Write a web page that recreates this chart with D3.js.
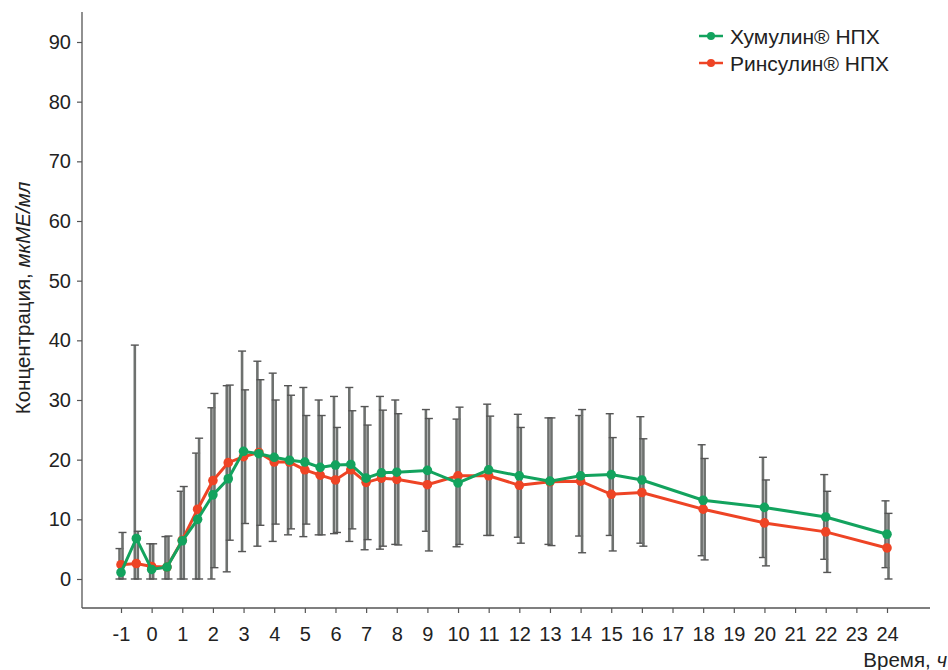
<!DOCTYPE html>
<html>
<head>
<meta charset="utf-8">
<script src="https://cdn.jsdelivr.net/npm/d3@7"></script>
<style>
  body { margin: 0; background: #fff; }
  text { font-family: "Liberation Sans", Arial, sans-serif; fill: #222; }
</style>
</head>
<body>
<div id="chart"></div>
<script>
// time points, hours
var hours = [-1, -0.5, 0, 0.5, 1, 1.5, 2, 2.5, 3, 3.5, 4, 4.5, 5, 5.5, 6, 6.5, 7, 7.5, 8, 9, 10, 11, 12, 13, 14, 15, 16, 18, 20, 22, 24];

var humulinMean = [1.1, 6.8, 1.6, 2.0, 6.4, 10.0, 14.1, 16.8, 21.4, 21.0, 20.4, 19.9, 19.6, 18.7, 19.1, 19.2, 16.9, 17.8, 17.9, 18.2, 16.1, 18.3, 17.3, 16.4, 17.3, 17.5, 16.6, 13.2, 12.0, 10.4, 7.5];
var humulinSd = [4.0, 32.4, 4.3, 5.1, 8.3, 11.1, 14.6, 15.6, 16.8, 15.5, 14.1, 12.5, 12.5, 11.3, 11.5, 12.9, 12.0, 12.8, 12.1, 10.2, 10.7, 11.0, 10.3, 10.6, 10.1, 10.2, 10.6, 9.3, 8.4, 7.1, 5.6];

var rinsulinMean = [2.4, 2.6, 2.1, 2.0, 6.5, 11.7, 16.5, 19.5, 20.5, 21.2, 19.6, 19.6, 18.3, 17.4, 16.6, 18.3, 16.2, 16.9, 16.7, 15.8, 17.3, 17.3, 15.7, 16.3, 16.4, 14.2, 14.5, 11.7, 9.4, 7.9, 5.2];
var rinsulinSd = [5.4, 5.4, 3.8, 5.2, 9.0, 11.9, 14.6, 13.0, 11.2, 12.2, 10.4, 11.2, 9.1, 10.0, 8.8, 9.9, 9.6, 11.4, 11.0, 11.1, 11.5, 10.0, 9.7, 10.7, 12.0, 9.5, 9.0, 8.5, 7.2, 6.8, 5.8];

var xTicks = d3.range(-1, 25);
var yTicks = [0, 10, 20, 30, 40, 50, 60, 70, 80, 90];

var seriesNames = ["Хумулин® НПХ", "Ринсулин® НПХ"];
var seriesColors = ["#13a35e", "#ee4425"];

var width = 948, height = 670;
var svg = d3.select("#chart").append("svg")
    .attr("width", width)
    .attr("height", height)
    .attr("xmlns", "http://www.w3.org/2000/svg");

var x = d3.scaleLinear().domain([-1, 24]).range([121, 887]);
var y = d3.scaleLinear().domain([0, 90]).range([579, 42]);

var axisColor = "#555";

// y axis
var yAxis = svg.append("g")
    .attr("transform", "translate(82,0)")
    .call(d3.axisLeft(y).tickValues(yTicks).tickSize(5).tickPadding(6));
yAxis.select(".domain").remove();
svg.append("line")
    .attr("x1", 82).attr("y1", 12)
    .attr("x2", 82).attr("y2", 608)
    .attr("stroke", axisColor).attr("stroke-width", 1.3);

// x axis (plain hyphen for -1, as in the original)
var xAxis = svg.append("g")
    .attr("transform", "translate(0,608)")
    .call(d3.axisBottom(x).tickValues(xTicks).tickSize(5).tickPadding(14)
        .tickFormat(function(d) { return String(d); }));
xAxis.select(".domain").remove();
svg.append("line")
    .attr("x1", 82).attr("y1", 608)
    .attr("x2", 930).attr("y2", 608)
    .attr("stroke", axisColor).attr("stroke-width", 1.3);

svg.selectAll(".tick line").attr("stroke", axisColor).attr("stroke-width", 1.2);
svg.selectAll(".tick text").style("font-size", "20px").style("fill", "#222");

// axis titles
var yTitle = svg.append("text")
    .attr("transform", "translate(30,298) rotate(-90)")
    .attr("text-anchor", "middle")
    .style("font-size", "20.5px");
yTitle.append("tspan").text("Концентрация, ");
yTitle.append("tspan").style("font-style", "italic").text("мкМЕ/мл");

var xTitle = svg.append("text")
    .attr("x", 947).attr("y", 667)
    .attr("text-anchor", "end")
    .style("font-size", "20.5px");
xTitle.append("tspan").text("Время, ");
xTitle.append("tspan").style("font-style", "italic").text("ч");

// build series
var series = [
    { name: seriesNames[0], color: seriesColors[0], mean: humulinMean, sd: humulinSd, dx: -1.5 },
    { name: seriesNames[1], color: seriesColors[1], mean: rinsulinMean, sd: rinsulinSd, dx: 1.5 }
].map(function(s) {
    s.points = hours.map(function(h, i) {
        return { t: h, v: s.mean[i], lo: Math.max(0, s.mean[i] - s.sd[i]), hi: s.mean[i] + s.sd[i] };
    });
    return s;
});

// error bars
var bars = svg.append("g");
series.forEach(function(s) {
    var g = bars.append("g");
    g.selectAll("line.bar").data(s.points).enter().append("line")
        .attr("x1", function(d) { return x(d.t) + s.dx; })
        .attr("x2", function(d) { return x(d.t) + s.dx; })
        .attr("y1", function(d) { return y(d.lo); })
        .attr("y2", function(d) { return y(d.hi); })
        .attr("stroke", "#6e716f").attr("stroke-width", 2.6);
    g.selectAll("line.capTop").data(s.points).enter().append("line")
        .attr("x1", function(d) { return x(d.t) + s.dx - 4; })
        .attr("x2", function(d) { return x(d.t) + s.dx + 4; })
        .attr("y1", function(d) { return y(d.hi); })
        .attr("y2", function(d) { return y(d.hi); })
        .attr("stroke", "#555").attr("stroke-width", 1.4);
    g.selectAll("line.capBot").data(s.points).enter().append("line")
        .attr("x1", function(d) { return x(d.t) + s.dx - 4; })
        .attr("x2", function(d) { return x(d.t) + s.dx + 4; })
        .attr("y1", function(d) { return y(d.lo); })
        .attr("y2", function(d) { return y(d.lo); })
        .attr("stroke", "#555").attr("stroke-width", 1.4);
});

// lines + markers, red first so green sits on top
var line = d3.line().x(function(d) { return x(d.t); }).y(function(d) { return y(d.v); });
series.slice().reverse().forEach(function(s) {
    svg.append("path")
        .datum(s.points)
        .attr("d", line)
        .attr("fill", "none")
        .attr("stroke", s.color)
        .attr("stroke-width", 3);
    svg.append("g").selectAll("circle").data(s.points).enter().append("circle")
        .attr("cx", function(d) { return x(d.t); })
        .attr("cy", function(d) { return y(d.v); })
        .attr("r", 4.8)
        .attr("fill", s.color);
});

// legend
var legend = svg.append("g");
series.forEach(function(s, i) {
    var ly = 36 + i * 27;
    legend.append("line")
        .attr("x1", 699).attr("x2", 723)
        .attr("y1", ly).attr("y2", ly)
        .attr("stroke", s.color).attr("stroke-width", 2.5);
    legend.append("circle")
        .attr("cx", 711).attr("cy", ly).attr("r", 4)
        .attr("fill", s.color);
    legend.append("text")
        .attr("x", 730).attr("y", ly + 7.5)
        .style("font-size", "21px")
        .text(s.name);
});
</script>
</body>
</html>
